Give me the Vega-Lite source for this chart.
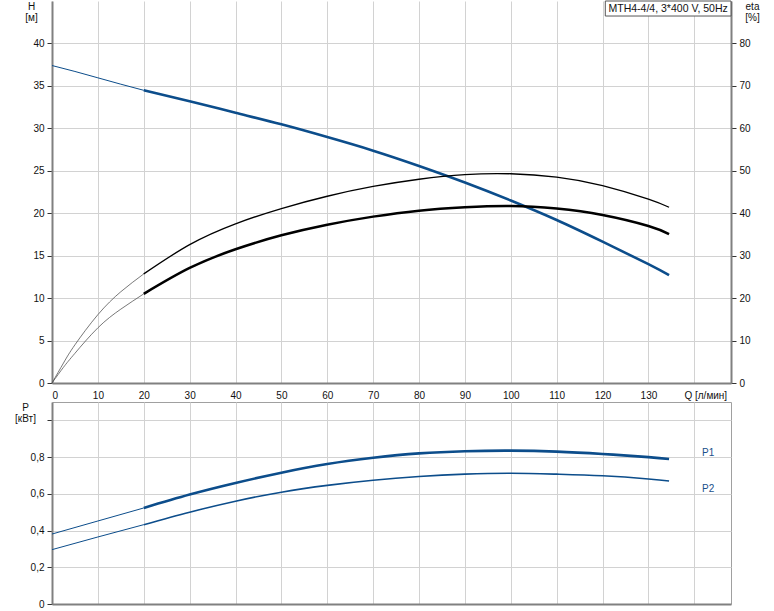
{
  "$schema": "https://vega.github.io/schema/vega-lite/v6.json",
  "autosize": {"type": "pad"},
  "padding": {"left": 14, "top": 0, "right": 0, "bottom": 0},
  "background": "white",
  "config": {
    "font": "Liberation Sans",
    "view": {"stroke": null},
    "axis": {
      "labelFont": "Liberation Sans", "labelFontSize": 10, "labelColor": "#111111",
      "titleFont": "Liberation Sans", "titleFontSize": 10, "titleFontWeight": "normal", "titleColor": "#111111",
      "gridColor": "#d2d2d2", "gridWidth": 1, "domainColor": "#808080", "domainWidth": 2,
      "tickColor": "#333333", "tickSize": 5, "labelPadding": 3, "titleLineHeight": 11.5
    }
  },
  "datasets": {
    "top": [
      {"curve": "H", "seg": "ext", "Q": 0, "v": 37.4},
      {"curve": "H", "seg": "ext", "Q": 5, "v": 36.7},
      {"curve": "H", "seg": "ext", "Q": 10, "v": 35.95},
      {"curve": "H", "seg": "ext", "Q": 15, "v": 35.2},
      {"curve": "H", "seg": "ext", "Q": 20, "v": 34.48},
      {"curve": "H", "seg": "op", "Q": 20, "v": 34.48},
      {"curve": "H", "seg": "op", "Q": 30, "v": 33.2},
      {"curve": "H", "seg": "op", "Q": 40, "v": 31.84},
      {"curve": "H", "seg": "op", "Q": 50, "v": 30.47},
      {"curve": "H", "seg": "op", "Q": 60, "v": 28.97},
      {"curve": "H", "seg": "op", "Q": 70, "v": 27.37},
      {"curve": "H", "seg": "op", "Q": 80, "v": 25.57},
      {"curve": "H", "seg": "op", "Q": 90, "v": 23.62},
      {"curve": "H", "seg": "op", "Q": 100, "v": 21.5},
      {"curve": "H", "seg": "op", "Q": 110, "v": 19.2},
      {"curve": "H", "seg": "op", "Q": 120, "v": 16.65},
      {"curve": "H", "seg": "op", "Q": 130, "v": 14.0},
      {"curve": "H", "seg": "op", "Q": 134.5, "v": 12.7},
      {"curve": "eta1", "seg": "ext", "Q": 0, "v": 0},
      {"curve": "eta1", "seg": "ext", "Q": 2.5, "v": 4.7},
      {"curve": "eta1", "seg": "ext", "Q": 5, "v": 9.0},
      {"curve": "eta1", "seg": "ext", "Q": 10, "v": 16.1},
      {"curve": "eta1", "seg": "ext", "Q": 15, "v": 21.5},
      {"curve": "eta1", "seg": "ext", "Q": 20, "v": 25.7},
      {"curve": "eta1", "seg": "op", "Q": 20, "v": 25.7},
      {"curve": "eta1", "seg": "op", "Q": 30, "v": 32.6},
      {"curve": "eta1", "seg": "op", "Q": 40, "v": 37.5},
      {"curve": "eta1", "seg": "op", "Q": 50, "v": 41.1},
      {"curve": "eta1", "seg": "op", "Q": 60, "v": 44.0},
      {"curve": "eta1", "seg": "op", "Q": 70, "v": 46.3},
      {"curve": "eta1", "seg": "op", "Q": 80, "v": 48.0},
      {"curve": "eta1", "seg": "op", "Q": 90, "v": 49.1},
      {"curve": "eta1", "seg": "op", "Q": 100, "v": 49.3},
      {"curve": "eta1", "seg": "op", "Q": 110, "v": 48.5},
      {"curve": "eta1", "seg": "op", "Q": 120, "v": 46.5},
      {"curve": "eta1", "seg": "op", "Q": 130, "v": 43.3},
      {"curve": "eta1", "seg": "op", "Q": 134.5, "v": 41.4},
      {"curve": "eta2", "seg": "ext", "Q": 0, "v": 0},
      {"curve": "eta2", "seg": "ext", "Q": 2.5, "v": 3.7},
      {"curve": "eta2", "seg": "ext", "Q": 5, "v": 7.0},
      {"curve": "eta2", "seg": "ext", "Q": 10, "v": 13.0},
      {"curve": "eta2", "seg": "ext", "Q": 15, "v": 17.4},
      {"curve": "eta2", "seg": "ext", "Q": 20, "v": 21.0},
      {"curve": "eta2", "seg": "op", "Q": 20, "v": 21.0},
      {"curve": "eta2", "seg": "op", "Q": 30, "v": 27.1},
      {"curve": "eta2", "seg": "op", "Q": 40, "v": 31.5},
      {"curve": "eta2", "seg": "op", "Q": 50, "v": 34.8},
      {"curve": "eta2", "seg": "op", "Q": 60, "v": 37.3},
      {"curve": "eta2", "seg": "op", "Q": 70, "v": 39.2},
      {"curve": "eta2", "seg": "op", "Q": 80, "v": 40.6},
      {"curve": "eta2", "seg": "op", "Q": 90, "v": 41.4},
      {"curve": "eta2", "seg": "op", "Q": 100, "v": 41.7},
      {"curve": "eta2", "seg": "op", "Q": 110, "v": 41.1},
      {"curve": "eta2", "seg": "op", "Q": 120, "v": 39.6},
      {"curve": "eta2", "seg": "op", "Q": 130, "v": 37.0},
      {"curve": "eta2", "seg": "op", "Q": 134.5, "v": 35.1}
    ],
    "bottom": [
      {"curve": "P1", "seg": "ext", "Q": 0, "v": 0.381},
      {"curve": "P1", "seg": "ext", "Q": 10, "v": 0.452},
      {"curve": "P1", "seg": "ext", "Q": 20, "v": 0.523},
      {"curve": "P1", "seg": "op", "Q": 20, "v": 0.523},
      {"curve": "P1", "seg": "op", "Q": 30, "v": 0.596},
      {"curve": "P1", "seg": "op", "Q": 40, "v": 0.659},
      {"curve": "P1", "seg": "op", "Q": 50, "v": 0.715},
      {"curve": "P1", "seg": "op", "Q": 60, "v": 0.762},
      {"curve": "P1", "seg": "op", "Q": 70, "v": 0.796},
      {"curve": "P1", "seg": "op", "Q": 80, "v": 0.82},
      {"curve": "P1", "seg": "op", "Q": 90, "v": 0.832},
      {"curve": "P1", "seg": "op", "Q": 100, "v": 0.835},
      {"curve": "P1", "seg": "op", "Q": 110, "v": 0.83},
      {"curve": "P1", "seg": "op", "Q": 120, "v": 0.817},
      {"curve": "P1", "seg": "op", "Q": 130, "v": 0.8},
      {"curve": "P1", "seg": "op", "Q": 134.5, "v": 0.79},
      {"curve": "P2", "seg": "ext", "Q": 0, "v": 0.296},
      {"curve": "P2", "seg": "ext", "Q": 10, "v": 0.365},
      {"curve": "P2", "seg": "ext", "Q": 20, "v": 0.432},
      {"curve": "P2", "seg": "op", "Q": 20, "v": 0.432},
      {"curve": "P2", "seg": "op", "Q": 30, "v": 0.5},
      {"curve": "P2", "seg": "op", "Q": 40, "v": 0.56},
      {"curve": "P2", "seg": "op", "Q": 50, "v": 0.609},
      {"curve": "P2", "seg": "op", "Q": 60, "v": 0.646},
      {"curve": "P2", "seg": "op", "Q": 70, "v": 0.674},
      {"curve": "P2", "seg": "op", "Q": 80, "v": 0.694},
      {"curve": "P2", "seg": "op", "Q": 90, "v": 0.707},
      {"curve": "P2", "seg": "op", "Q": 100, "v": 0.712},
      {"curve": "P2", "seg": "op", "Q": 110, "v": 0.707},
      {"curve": "P2", "seg": "op", "Q": 120, "v": 0.698},
      {"curve": "P2", "seg": "op", "Q": 130, "v": 0.681},
      {"curve": "P2", "seg": "op", "Q": 134.5, "v": 0.67}
    ]
  },
  "spacing": 19,
  "bounds": "flush",
  "vconcat": [
    {
      "width": 679,
      "height": 382,
      "layer": [
        {
          "data": {"name": "top"},
          "transform": [{"filter": "datum.curve === 'H'"}],
          "mark": {"type": "line", "interpolate": "natural"},
          "encoding": {
            "x": {"field": "Q", "type": "quantitative", "scale": {"domain": [0, 148], "nice": false, "zero": false},
              "axis": {"values": [0, 10, 20, 30, 40, 50, 60, 70, 80, 90, 100, 110, 120, 130, 140], "title": null, "grid": true, "tickSize": 0, "labelPadding": 7,
                "labelExpr": "datum.value == 140 ? 'Q [л/мин]' : datum.label",
                "labelOffset": {"condition": {"test": "datum.value == 140", "value": 11}, "value": 0}}},
            "y": {"field": "v", "type": "quantitative", "scale": {"domain": [0, 45], "nice": false},
              "axis": {"values": [0, 5, 10, 15, 20, 25, 30, 35, 40], "title": ["H", "[м]"], "titleAngle": 0, "titleAlign": "center", "titleBaseline": "top", "titleX": -21, "titleY": 0, "grid": true}},
            "detail": {"field": "seg"},
            "strokeWidth": {"condition": {"test": "datum.seg === 'ext'", "value": 1}, "value": 2.6},
            "color": {"value": "#0c4d8b"}
          }
        },
        {
          "data": {"name": "top"},
          "transform": [{"filter": "datum.curve !== 'H'"}],
          "mark": {"type": "line", "interpolate": "natural"},
          "encoding": {
            "x": {"field": "Q", "type": "quantitative", "scale": {"domain": [0, 148], "nice": false, "zero": false}},
            "y": {"field": "v", "type": "quantitative", "scale": {"domain": [0, 90], "nice": false},
              "axis": {"orient": "right", "values": [0, 10, 20, 30, 40, 50, 60, 70, 80], "title": ["eta", "[%]"], "titleAngle": 0, "titleAlign": "center", "titleBaseline": "top", "titleX": 21, "titleY": 0, "grid": false}},
            "detail": [{"field": "curve"}, {"field": "seg"}],
            "strokeWidth": {"condition": [{"test": "datum.seg === 'ext'", "value": 0.8}, {"test": "datum.curve === 'eta2'", "value": 2.5}], "value": 1.3},
            "color": {"condition": {"test": "datum.seg === 'ext'", "value": "#555555"}, "value": "#000000"}
          }
        },
        {
          "data": {"values": [{}]},
          "mark": {"type": "rect", "fill": "white", "stroke": "#555555", "strokeWidth": 1},
          "encoding": {
            "x": {"datum": 120.6, "type": "quantitative", "scale": {"domain": [0, 148], "nice": false, "zero": false}},
            "x2": {"datum": 148},
            "y": {"datum": 45, "type": "quantitative", "scale": {"domain": [0, 45], "nice": false}, "axis": null},
            "y2": {"datum": 43.23}
          }
        },
        {
          "data": {"values": [{}]},
          "mark": {"type": "text", "text": "MTH4-4/4, 3*400 V, 50Hz", "fontSize": 10.5, "align": "center", "baseline": "middle", "color": "#111111", "font": "Liberation Sans"},
          "encoding": {
            "x": {"datum": 134.3, "type": "quantitative", "scale": {"domain": [0, 148], "nice": false, "zero": false}},
            "y": {"datum": 44.1, "type": "quantitative", "scale": {"domain": [0, 45], "nice": false}, "axis": null}
          }
        }
      ],
      "resolve": {"scale": {"y": "independent"}}
    },
    {
      "width": 679,
      "height": 202,
      "view": {"stroke": "#a0a0a0"},
      "layer": [
        {
          "data": {"name": "bottom"},
          "mark": {"type": "line", "interpolate": "natural"},
          "encoding": {
            "x": {"field": "Q", "type": "quantitative", "scale": {"domain": [0, 148], "nice": false, "zero": false},
              "axis": {"values": [0, 10, 20, 30, 40, 50, 60, 70, 80, 90, 100, 110, 120, 130, 140], "title": null, "grid": true, "tickSize": 0, "labels": false}},
            "y": {"field": "v", "type": "quantitative", "scale": {"domain": [0, 1.1], "nice": false},
              "axis": {"values": [0, 0.2, 0.4, 0.6, 0.8, 1.0], "labelExpr": "datum.value == 1 ? '' : (datum.value == 0 ? '0' : replace(format(datum.value, '.1f'), '.', ','))",
                "title": ["P", "[кВт]"], "titleAngle": 0, "titleAlign": "center", "titleBaseline": "top", "titleX": -27, "titleY": 0, "grid": true}},
            "detail": [{"field": "curve"}, {"field": "seg"}],
            "strokeWidth": {"condition": [{"test": "datum.seg === 'ext'", "value": 1}, {"test": "datum.curve === 'P1'", "value": 2.6}], "value": 1.6},
            "color": {"value": "#0c4d8b"}
          }
        },
        {
          "data": {"values": [{}]},
          "mark": {"type": "text", "text": "P1", "fontSize": 10, "align": "left", "baseline": "middle", "color": "#1a4f8a", "font": "Liberation Sans"},
          "encoding": {
            "x": {"datum": 141.7, "type": "quantitative"},
            "y": {"datum": 0.824, "type": "quantitative"}
          }
        },
        {
          "data": {"values": [{}]},
          "mark": {"type": "text", "text": "P2", "fontSize": 10, "align": "left", "baseline": "middle", "color": "#1a4f8a", "font": "Liberation Sans"},
          "encoding": {
            "x": {"datum": 141.7, "type": "quantitative"},
            "y": {"datum": 0.628, "type": "quantitative"}
          }
        }
      ]
    }
  ]
}
